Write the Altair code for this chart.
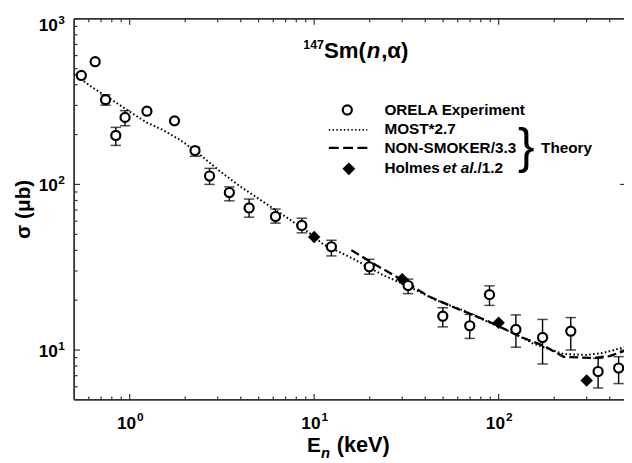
import altair as alt
import pandas as pd

# ---------------- data ----------------
# ORELA experiment (E in keV, sigma in microbarn)
exp_E = [0.547, 0.65, 0.74, 0.841, 0.944, 1.24, 1.75, 2.26, 2.71, 3.47, 4.44, 6.17,
         8.57, 12.4, 19.9, 32.3, 49.8, 69.7, 89.2, 124, 173, 246, 346, 447]
exp_S = [455, 551, 325, 197.5, 254, 277, 242, 160, 112.4, 89.3, 72.1, 64,
         56.5, 42, 31.8, 24.5, 16.0, 14.0, 21.6, 13.3, 11.9, 13.0, 7.41, 7.78]
exp_lo = [None, None, 301, 172, 226, None, None, 148, 100, 79.6, 63.4, 58.4,
          51, 37, 28.7, 21.9, 13.8, 11.75, 18.6, 10.4, 8.24, 10.0, 5.9, 6.27]
exp_hi = [None, None, 348, 221, 279, None, None, 168, 125, 96.6, 81.6, 71,
          62.5, 46, 35.3, 26.8, 18.0, 16.4, 24.4, 16.3, 15.3, 15.7, 8.9, 9.12]

# MOST * 2.7 (dotted)
most_E = [0.5, 0.644, 0.859, 1.0, 1.24, 1.53, 1.87, 2.26, 3.07, 3.93, 5.03, 6.43,
          8.23, 9.3, 11.2, 16.2, 23.5, 32.6, 45.3, 65.5, 84, 121, 155, 225, 299, 368, 480]
most_S = [462, 378, 308, 275, 236, 212, 186, 160, 120.6, 98, 81.6, 68,
          56.5, 51.5, 43.5, 35.7, 28.4, 24.2, 20.1, 17.2, 15.1, 12.6, 10.9, 9.46, 9.34, 9.6, 10.4]

# NON-SMOKER / 3.3 (dashed)
ns_E = [15.9, 21.6, 30, 41.7, 58, 87, 132, 176, 225, 326, 400, 481]
ns_S = [40.1, 32.6, 26.5, 21.1, 18.0, 15.0, 12.0, 10.6, 9.1, 8.95, 9.2, 9.9]

# Holmes et al. / 1.2
hol_E = [10, 30, 100, 300]
hol_S = [48.1, 26.8, 14.6, 6.55]

# axis ticks
x_major = [1, 10, 100]
x_exp = ["0", "1", "2"]
x_minor = [0.6, 0.7, 0.8, 0.9, 2, 3, 4, 5, 6, 7, 8, 9,
           20, 30, 40, 50, 60, 70, 80, 90, 200, 300, 400]
y_major = [10, 100, 1000]
y_exp = ["1", "2", "3"]
y_minor = [6, 7, 8, 9, 20, 30, 40, 50, 60, 70, 80, 90,
           200, 300, 400, 500, 600, 700, 800, 900]

# ---------------- layout ----------------
W, H = 557, 386
FONT = "Liberation Sans"
INK = "#000000"

xs = alt.Scale(type="log", domain=[0.5, 478], nice=False)
ys = alt.Scale(type="log", domain=[5, 1000], nice=False)

exp_df = pd.DataFrame({"E": exp_E, "S": exp_S, "lo": exp_lo, "hi": exp_hi})
most_df = pd.DataFrame({"E": most_E, "S": most_S})
ns_df = pd.DataFrame({"E": ns_E, "S": ns_S})
hol_df = pd.DataFrame({"E": hol_E, "S": hol_S})
one = pd.DataFrame({"k": [0]})


def X(f="E"):
    return alt.X(f"{f}:Q", scale=xs, axis=None)


def Y(f="S"):
    return alt.Y(f"{f}:Q", scale=ys, axis=None)


layers = []

# frame (left, top, bottom)
frame = alt.Chart(one).mark_rule(color="#333333", strokeWidth=1.8)
layers += [
    frame.encode(x=alt.value(0), y=alt.value(0), y2=alt.value(H)),
    frame.encode(x=alt.value(0), x2=alt.value(W + 2), y=alt.value(0)),
    frame.encode(x=alt.value(0), x2=alt.value(W + 2), y=alt.value(H)),
]

# ticks (inward)
xmaj = pd.DataFrame({"E": x_major, "t": x_exp})
xmin = pd.DataFrame({"E": x_minor})
ymaj = pd.DataFrame({"S": y_major, "t": y_exp})
ymin = pd.DataFrame({"S": y_minor})
tk = dict(color="#333333", strokeWidth=1.2)
layers += [
    alt.Chart(xmaj).mark_rule(**tk).encode(x=X(), y=alt.value(H), y2=alt.value(H - 6)),
    alt.Chart(xmin).mark_rule(**tk).encode(x=X(), y=alt.value(H), y2=alt.value(H - 3.5)),
    alt.Chart(xmaj).mark_rule(**tk).encode(x=X(), y=alt.value(0), y2=alt.value(6)),
    alt.Chart(xmin).mark_rule(**tk).encode(x=X(), y=alt.value(0), y2=alt.value(3.5)),
    alt.Chart(ymaj).mark_rule(**tk).encode(y=Y(), x=alt.value(0), x2=alt.value(6)),
    alt.Chart(ymin).mark_rule(**tk).encode(y=Y(), x=alt.value(0), x2=alt.value(3.5)),
    alt.Chart(ymaj[ymaj.S < 1000]).mark_rule(**tk).encode(y=Y(), x=alt.value(W - 4), x2=alt.value(W + 2)),
]

# tick labels: 10 with superscript exponent
lab = dict(font=FONT, fontWeight="bold", color=INK)
layers += [
    alt.Chart(xmaj).mark_text(align="right", baseline="alphabetic", dx=6.5, fontSize=17.5, **lab)
    .encode(x=X(), y=alt.value(H + 30), text=alt.value("10")),
    alt.Chart(xmaj).mark_text(align="left", baseline="alphabetic", dx=7.5, fontSize=12, **lab)
    .encode(x=X(), y=alt.value(H + 21), text="t:N"),
    alt.Chart(ymaj[ymaj.S < 1000]).mark_text(align="right", baseline="middle", dy=2, fontSize=17.5, **lab)
    .encode(y=Y(), x=alt.value(-16.5), text=alt.value("10")),
    alt.Chart(ymaj[ymaj.S < 1000]).mark_text(align="left", baseline="alphabetic", dy=0, fontSize=12, **lab)
    .encode(y=Y(), x=alt.value(-16), text="t:N"),
    alt.Chart(ymaj[ymaj.S == 1000]).mark_text(align="right", baseline="middle", dy=7, fontSize=17.5, **lab)
    .encode(y=Y(), x=alt.value(-16.5), text=alt.value("10")),
    alt.Chart(ymaj[ymaj.S == 1000]).mark_text(align="left", baseline="alphabetic", dy=5, fontSize=12, **lab)
    .encode(y=Y(), x=alt.value(-16), text="t:N"),
]

# axis titles
layers += [
    alt.Chart(one).mark_text(align="left", baseline="alphabetic", fontSize=21, **lab)
    .encode(x=alt.value(236), y=alt.value(H + 53), text=alt.value("E")),
    alt.Chart(one).mark_text(align="left", baseline="alphabetic", fontSize=15, fontStyle="italic", **lab)
    .encode(x=alt.value(250), y=alt.value(H + 59), text=alt.value("n")),
    alt.Chart(one).mark_text(align="left", baseline="alphabetic", fontSize=22, **lab)
    .encode(x=alt.value(266), y=alt.value(H + 53), text=alt.value("(keV)")),
    alt.Chart(one).mark_text(align="center", baseline="middle", angle=270, fontSize=21, **lab)
    .encode(x=alt.value(-51), y=alt.value(H / 2), text=alt.value("σ (μb)")),
]

# plot title 147Sm(n,alpha)
layers += [
    alt.Chart(one).mark_text(align="right", baseline="alphabetic", fontSize=12.5, **lab)
    .encode(x=alt.value(253), y=alt.value(31), text=alt.value("147")),
    alt.Chart(one).mark_text(align="left", baseline="alphabetic", fontSize=22.5, **lab)
    .encode(x=alt.value(253), y=alt.value(39.5), text=alt.value("Sm(")),
    alt.Chart(one).mark_text(align="left", baseline="alphabetic", fontSize=22.5, fontStyle="italic", **lab)
    .encode(x=alt.value(296.5), y=alt.value(39.5), text=alt.value("n")),
    alt.Chart(one).mark_text(align="left", baseline="alphabetic", fontSize=22.5, **lab)
    .encode(x=alt.value(311), y=alt.value(39.5), text=alt.value(",α)")),
]

# theory curves
layers += [
    alt.Chart(most_df).mark_line(color=INK, strokeWidth=2, strokeDash=[1.6, 2.4], clip=True)
    .encode(x=X(), y=Y(), order="E:Q"),
    alt.Chart(ns_df).mark_line(color=INK, strokeWidth=2.3, strokeDash=[9, 4], clip=True)
    .encode(x=X(), y=Y(), order="E:Q"),
]

# Holmes diamonds
layers.append(
    alt.Chart(hol_df).mark_point(shape="diamond", filled=True, color=INK, size=160, opacity=1)
    .encode(x=X(), y=Y())
)

# error bars and experiment circles
eb = alt.Chart(exp_df).transform_filter("isValid(datum.lo)")
layers += [
    eb.mark_rule(color=INK, strokeWidth=1.4).encode(x=X(), y=Y("lo"), y2="hi:Q"),
    eb.mark_tick(color=INK, orient="horizontal", size=10.5, thickness=1.5).encode(x=X(), y=Y("lo")),
    eb.mark_tick(color=INK, orient="horizontal", size=10.5, thickness=1.5).encode(x=X(), y=Y("hi")),
    alt.Chart(exp_df).mark_point(shape="circle", filled=True, fill="white", stroke=INK,
                                 strokeWidth=2.2, size=85, opacity=1)
    .encode(x=X(), y=Y()),
]

# legend
leg = dict(font=FONT, fontWeight="bold", color=INK, fontSize=15.5, align="left", baseline="middle")
layers += [
    alt.Chart(one).mark_point(shape="circle", filled=True, fill="white", stroke=INK, strokeWidth=2.2,
                              size=85, opacity=1)
    .encode(x=alt.value(276.7), y=alt.value(92.3)),
    alt.Chart(one).mark_text(**leg).encode(x=alt.value(314.3), y=alt.value(92.3),
                                           text=alt.value("ORELA Experiment")),
    alt.Chart(one).mark_rule(color=INK, strokeWidth=1.6, strokeDash=[1.4, 2.4])
    .encode(x=alt.value(258), x2=alt.value(297), y=alt.value(112.5)),
    alt.Chart(one).mark_text(**leg).encode(x=alt.value(314.3), y=alt.value(112),
                                           text=alt.value("MOST*2.7")),
    alt.Chart(one).mark_rule(color=INK, strokeWidth=2.3, strokeDash=[10, 4.5])
    .encode(x=alt.value(258), x2=alt.value(298), y=alt.value(130.7)),
    alt.Chart(one).mark_text(**leg).encode(x=alt.value(314.3), y=alt.value(131),
                                           text=alt.value("NON-SMOKER/3.3")),
    alt.Chart(one).mark_point(shape="diamond", filled=True, color=INK, size=170, opacity=1)
    .encode(x=alt.value(278.3), y=alt.value(152)),
    alt.Chart(one).mark_text(**leg).encode(x=alt.value(314.3), y=alt.value(150.7),
                                           text=alt.value("Holmes")),
    alt.Chart(one).mark_text(fontStyle="italic", **leg).encode(x=alt.value(373.5), y=alt.value(150.7),
                                                               text=alt.value("et al.")),
    alt.Chart(one).mark_text(**leg).encode(x=alt.value(408.5), y=alt.value(150.7),
                                           text=alt.value("/1.2")),
    alt.Chart(one).mark_text(font=FONT, fontWeight="normal", color=INK, fontSize=50,
                             align="center", baseline="middle")
    .encode(x=alt.value(458), y=alt.value(131), text=alt.value("}")),
    alt.Chart(one).mark_text(**leg).encode(x=alt.value(473), y=alt.value(130.7),
                                           text=alt.value("Theory")),
]

chart = (
    alt.layer(*layers)
    .properties(width=W, height=H, autosize="none",
                padding={"left": 67, "top": 8, "right": 0, "bottom": 62})
    .configure_view(stroke="transparent")
)

chart.save("out.html", embed_options={"renderer": "svg", "actions": False})
